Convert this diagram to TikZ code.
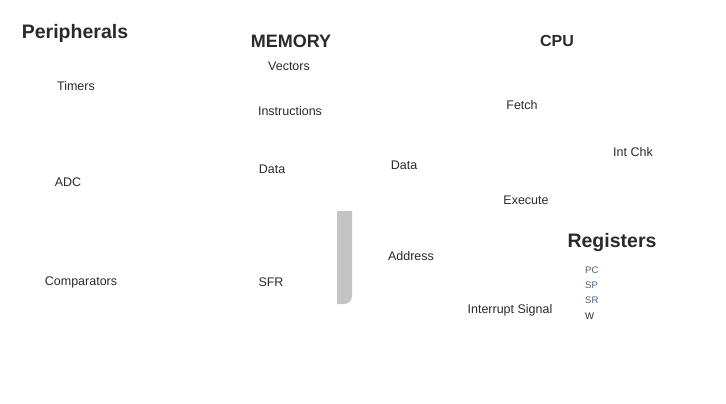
\documentclass[tikz,border=0pt]{standalone}
\usepackage{fontspec}
\setmainfont{Liberation Sans}
\definecolor{txt}{HTML}{2A2A2A}
\definecolor{regc}{HTML}{4A5E80}
\definecolor{barc}{HTML}{C4C4C4}
\begin{document}
\begin{tikzpicture}[x=1pt,y=-1pt,
  title/.style={font=\fontsize{19.5}{22}\selectfont\bfseries, text=txt, inner sep=0pt},
  lbl/.style={font=\fontsize{12.5}{15}\selectfont, text=txt, inner sep=0pt},
  reg/.style={font=\fontsize{9.5}{11}\selectfont, text=regc, inner sep=0pt, anchor=west}]
\useasboundingbox (0,0) rectangle (726,404);
% titles
\node[title] (per) at (75,33) {Peripherals};
\node[title, font=\fontsize{18}{21}\selectfont\bfseries] (mem) at (291,41) {MEMORY};
\node[title, font=\fontsize{16}{19}\selectfont\bfseries] (cpu) at (557,41) {CPU};
\node[title] (regs) at (612,243) {Registers};
% peripherals
\node[lbl] (tim) at (76,86) {Timers};
\node[lbl] (adc) at (68,182) {ADC};
\node[lbl] (cmp) at (81,282) {Comparators};
% memory
\node[lbl] (vec) at (289,66) {Vectors};
\node[lbl] (ins) at (290,111) {Instructions};
\node[lbl] (mdat) at (272,169) {Data};
\node[lbl] (sfr) at (271,282) {SFR};
% bus
\node[lbl] (bdat) at (404,165) {Data};
\node[lbl] (addr) at (411,256) {Address};
\node[lbl] (irq) at (510,310) {Interrupt Signal};
% cpu
\node[lbl] (fet) at (522,105) {Fetch};
\node[lbl] (chk) at (633,152) {Int Chk};
\node[lbl] (exe) at (526,200) {Execute};
% registers
\node[reg] (pc) at (585,270) {PC};
\node[reg] (sp) at (585,285) {SP};
\node[reg] (sr) at (585,300) {SR};
\node[reg, text=txt] (w) at (585,316) {W};
% gray bar
\fill[barc] (337,211) -- (352,211) -- (352,296) arc[start angle=0, end angle=90, radius=8] -- (337,304) -- cycle;
\end{tikzpicture}
\end{document}
